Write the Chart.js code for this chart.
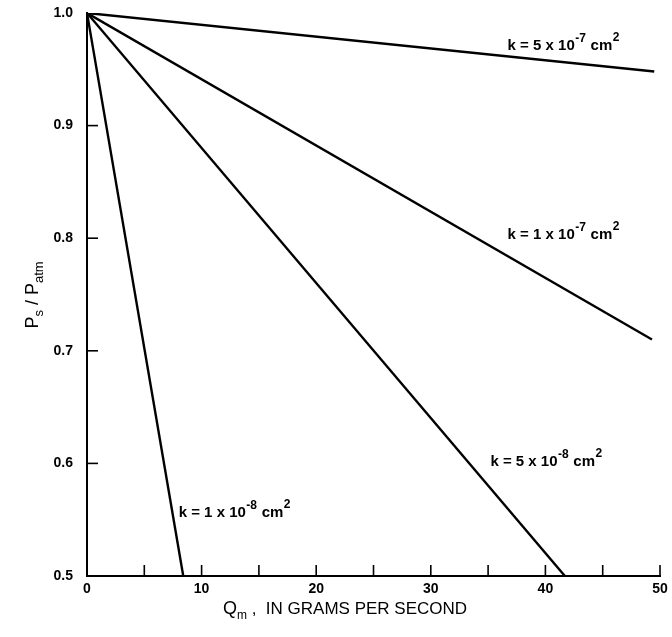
<!DOCTYPE html>
<html>
<head>
<meta charset="utf-8">
<script src="https://cdn.jsdelivr.net/npm/chart.js@4.4.1/dist/chart.umd.min.js"></script>
<style>
html,body{margin:0;padding:0;background:#fff;}
#wrap{width:672px;height:637px;position:relative;}
</style>
</head>
<body>
<div id="wrap"><canvas id="c" width="672" height="637"></canvas></div>
<script>
// ---- data ----
const seriesNames = ["k=5e-7", "k=1e-7", "k=5e-8", "k=1e-8"];
const q_5e7 = [0, 49.5];   const p_5e7 = [1.0, 0.948];
const q_1e7 = [0, 49.3];   const p_1e7 = [1.0, 0.71];
const q_5e8 = [0, 41.7];   const p_5e8 = [1.0, 0.5];
const q_1e8 = [0, 8.4];    const p_1e8 = [1.0, 0.5];
const xTicks = [0, 10, 20, 30, 40, 50];
const yTicks = [0.5, 0.6, 0.7, 0.8, 0.9, 1.0];
const xMinorTicks = [5, 10, 15, 20, 25, 30, 35, 40, 45, 50];
const yMinorTicks = [0.6, 0.7, 0.8, 0.9];
// label text parts: [base, exponent]
const labelExp = [["5", "-7"], ["1", "-7"], ["5", "-8"], ["1", "-8"]];

// ---- label placement (data coords of left baseline) ----
const labelPos = [[36.7, 0.967], [36.7, 0.799], [35.2, 0.598], [8.0, 0.552]];

const qs = [q_5e7, q_1e7, q_5e8, q_1e8];
const ps = [p_5e7, p_1e7, p_5e8, p_1e8];

const datasets = seriesNames.map((n, i) => ({
  label: n,
  data: qs[i].map((q, j) => ({x: q, y: ps[i][j]})),
  borderColor: '#000',
  borderWidth: 2.4,
  pointRadius: 0,
  fill: false,
  tension: 0
}));

const FONT = '"Liberation Sans", Arial, sans-serif';

const deco = {
  id: 'deco',
  afterDraw(chart) {
    const ctx = chart.ctx;
    const xs = chart.scales.x, ys = chart.scales.y;
    ctx.save();
    ctx.strokeStyle = '#000';
    ctx.lineWidth = 1.6;
    // inward ticks
    xMinorTicks.forEach(v => {
      const px = xs.getPixelForValue(v);
      ctx.beginPath(); ctx.moveTo(px, ys.bottom); ctx.lineTo(px, ys.bottom - 11); ctx.stroke();
    });
    yMinorTicks.forEach(v => {
      const py = ys.getPixelForValue(v);
      ctx.beginPath(); ctx.moveTo(xs.left, py); ctx.lineTo(xs.left + 11, py); ctx.stroke();
    });
    ctx.fillStyle = '#000';
    ctx.textBaseline = 'alphabetic';
    ctx.textAlign = 'left';
    // curve labels
    labelPos.forEach((pos, i) => {
      let x = xs.getPixelForValue(pos[0]);
      const y = ys.getPixelForValue(pos[1]);
      const parts = [
        ['k = ' + labelExp[i][0] + ' x 10', 15, 0],
        [labelExp[i][1], 12, -8],
        [' cm', 15, 0],
        ['2', 12, -9]
      ];
      parts.forEach(p => {
        ctx.font = 'bold ' + p[1] + 'px ' + FONT;
        ctx.fillText(p[0], x, y + p[2]);
        x += ctx.measureText(p[0]).width + 0.5;
      });
    });
    // x title
    {
      const y = 614;
      const parts = [['Q', 18, 0], ['m', 12, 5], [' ,  IN GRAMS PER SECOND', 17, 0]];
      let total = 0;
      parts.forEach(p => { ctx.font = p[1] + 'px ' + FONT; total += ctx.measureText(p[0]).width; });
      let x = 345 - total / 2;
      parts.forEach(p => {
        ctx.font = p[1] + 'px ' + FONT;
        ctx.fillText(p[0], x, y + p[2]);
        x += ctx.measureText(p[0]).width;
      });
    }
    // y title (rotated)
    {
      ctx.translate(38, 295);
      ctx.rotate(-Math.PI / 2);
      const parts = [['P', 18, 0], ['s', 13, 5], [' / P', 18, 0], ['atm', 13, 5]];
      let total = 0;
      parts.forEach(p => { ctx.font = p[1] + 'px ' + FONT; total += ctx.measureText(p[0]).width; });
      let x = -total / 2;
      parts.forEach(p => {
        ctx.font = p[1] + 'px ' + FONT;
        ctx.fillText(p[0], x, p[2]);
        x += ctx.measureText(p[0]).width;
      });
    }
    ctx.restore();
  }
};

new Chart(document.getElementById('c'), {
  type: 'line',
  data: { datasets },
  options: {
    responsive: false,
    animation: false,
    layout: { padding: { top: 13, right: 12, left: 0, bottom: 0 } },
    plugins: { legend: { display: false }, tooltip: { enabled: false } },
    scales: {
      x: {
        type: 'linear', min: 0, max: 50,
        grid: { display: false, drawTicks: false },
        border: { display: true, color: '#000', width: 2 },
        afterBuildTicks: s => { s.ticks = xTicks.map(v => ({value: v})); },
        afterFit: s => { s.height = 61; s.paddingLeft = 0; s.paddingRight = 0; },
        ticks: { color: '#000', padding: 5, maxRotation: 0, font: { family: FONT, size: 14, weight: 'bold' },
          callback: v => String(v) }
      },
      y: {
        type: 'linear', min: 0.5, max: 1.0,
        grid: { display: false, drawTicks: false },
        border: { display: true, color: '#000', width: 2 },
        afterBuildTicks: s => { s.ticks = yTicks.map(v => ({value: v})); },
        afterFit: s => { s.width = 87; s.paddingTop = 0; s.paddingBottom = 0; },
        ticks: { color: '#000', padding: 14, font: { family: FONT, size: 14, weight: 'bold' },
          callback: v => v.toFixed(1) }
      }
    }
  },
  plugins: [deco]
});
</script>
</body>
</html>
